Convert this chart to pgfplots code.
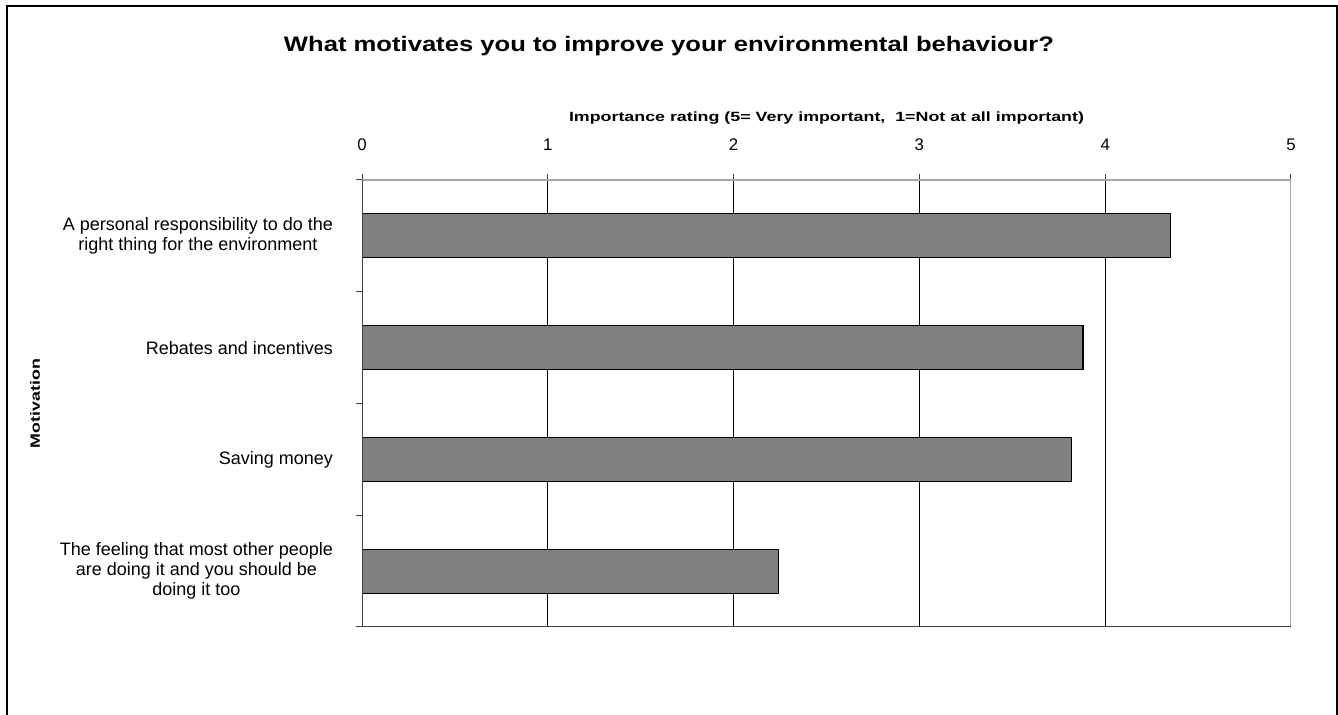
\documentclass[border=0pt]{standalone}
\usepackage{pgfplots}
\pgfplotsset{compat=1.18}
\usepackage{fontspec}
\setmainfont{Liberation Sans}
% Excel renders the bold texts wider than the font's natural width
\newfontfamily\titlefont[FakeStretch=1.22]{Liberation Sans Bold}
\newfontfamily\labelfont[FakeStretch=1.33]{Liberation Sans Bold}
\definecolor{barfill}{HTML}{808080}
\definecolor{axdark}{HTML}{404040}
\definecolor{axlight}{HTML}{A6A6A6}

\begin{document}
\begin{tikzpicture}
    \path[use as bounding box] (0,0) rectangle (669pt,357.5pt);
    % chart area frame (bottom edge is cut off in the original)
    \draw[line width=1pt] (3.25pt,-2pt) -- (3.25pt,354.25pt) -- (668.25pt,354.25pt) -- (668.25pt,-2pt);

    \begin{axis}[
        at={(181pt,44pt)}, anchor=south west,
        scale only axis,
        width=464.5pt, height=223.5pt,
        xbar, bar width=22pt,
        xmin=0, xmax=5,
        ymin=-0.5, ymax=3.5,
        y dir=reverse,
        xtick={0,1,2,3,4,5},
        xtick pos=right, xticklabel pos=right,
        ytick={0,1,2,3},
        ytick pos=left,
        minor ytick={-0.5,0.5,1.5,2.5,3.5},
        yticklabels={
            {A personal responsibility to do the\\right thing for the environment},
            {Rebates and incentives},
            {Saving money},
            {The feeling that most other people\\are doing it and you should be\\doing it too}
        },
        axis line style={draw=none},
        xmajorgrids,
        major grid style={black, line width=0.5pt},
        tick align=outside,
        major tick length=3pt, minor tick length=3pt,
        tick style={axdark, line width=0.5pt},
        major y tick style={draw=none},
        /pgf/number format/assume math mode=true,
        xticklabel style={font=\fontsize{8.4}{10}\selectfont, yshift=8pt},
        yticklabel style={font=\fontsize{9}{10}\selectfont, align=center, xshift=-8pt},
        title={What motivates you to improve your environmental behaviour?},
        title style={font=\titlefont\fontsize{10.5}{12.6}\selectfont,
            at={(axis description cs:0.3305,1)}, anchor=center, yshift=61pt},
        xlabel={Importance rating (5= Very important,\ \ 1=Not at all important)},
        xlabel style={font=\labelfont\fontsize{6.7}{8}\selectfont,
            at={(axis description cs:0.5,1)}, anchor=center, yshift=31pt},
        ylabel={Motivation},
        ylabel style={font=\labelfont\fontsize{6.7}{8}\selectfont,
            at={(axis description cs:-0.352,0.5)}, anchor=center},
    ]
        \addplot[fill=barfill, draw=black, line width=0.6pt]
            coordinates {(4.35,0) (3.88,1) (3.82,2) (2.24,3)};

        % plot area border: dark on left/top, light on right/bottom
        \draw[axlight, line width=1pt] (rel axis cs:0,1) -- (rel axis cs:1,1) -- (rel axis cs:1,0);
        \draw[axdark, line width=0.6pt] (rel axis cs:0,1) -- (rel axis cs:0,0) -- (rel axis cs:1,0);
    \end{axis}
\end{tikzpicture}
\end{document}
